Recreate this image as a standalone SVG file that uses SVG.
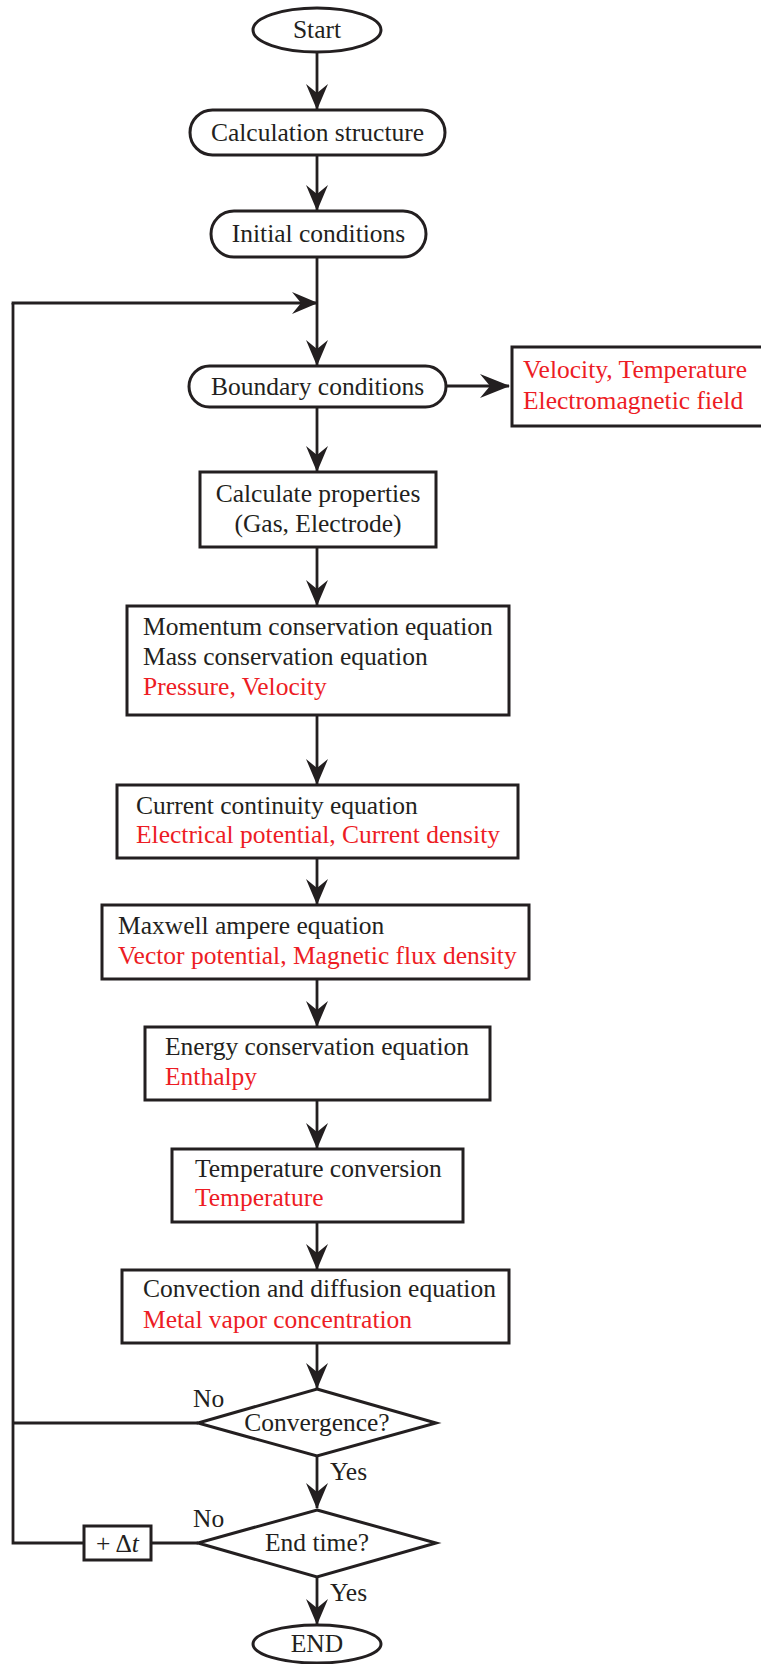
<svg xmlns="http://www.w3.org/2000/svg" width="761" height="1664" viewBox="0 0 761 1664" font-family="'Liberation Serif','Times New Roman',serif">
<defs>
<marker id="ah" viewBox="0 0 26 22" refX="25" refY="11" markerWidth="26" markerHeight="22" markerUnits="userSpaceOnUse" orient="auto">
<path d="M0,0 L26,11 L0,22 L9,11 Z" fill="#231f20"/>
</marker>
<marker id="ah2" viewBox="0 0 30 24" refX="29" refY="12" markerWidth="30" markerHeight="24" markerUnits="userSpaceOnUse" orient="auto">
<path d="M0,0 L30,12 L0,24 L10,12 Z" fill="#231f20"/>
</marker>
<style>
.b{fill:#fff;stroke:#231f20;stroke-width:3}
.l{fill:none;stroke:#231f20;stroke-width:2.8}
.a{fill:none;stroke:#231f20;stroke-width:2.8;marker-end:url(#ah)}
.a2{fill:none;stroke:#231f20;stroke-width:2.8;marker-end:url(#ah2)}
text{font-family:'Liberation Serif','Times New Roman',serif;font-size:25.5px;fill:#231f20}
.c{text-anchor:middle}
.r{fill:#ed1c24}
</style>
</defs>
<rect width="761" height="1664" fill="#fff"/>
<g id="connectors">
<line class="a" x1="317" y1="52" x2="317" y2="109"/>
<line class="a" x1="317" y1="155" x2="317" y2="210"/>
<line class="a" x1="317" y1="257" x2="317" y2="365"/>
<line class="a2" x1="446" y1="386" x2="509" y2="386"/>
<line class="a" x1="317" y1="407" x2="317" y2="471"/>
<line class="a" x1="317" y1="547" x2="317" y2="605"/>
<line class="a" x1="317" y1="715" x2="317" y2="784"/>
<line class="a" x1="317" y1="858" x2="317" y2="904"/>
<line class="a" x1="317" y1="979" x2="317" y2="1026"/>
<line class="a" x1="317" y1="1100" x2="317" y2="1148"/>
<line class="a" x1="317" y1="1222" x2="317" y2="1269"/>
<line class="a" x1="317" y1="1343" x2="317" y2="1388"/>
<line class="a" x1="317" y1="1456" x2="317" y2="1508"/>
<line class="a" x1="317" y1="1577" x2="317" y2="1624"/>
<polyline class="l" points="198,1423 13,1423"/>
<polyline class="l" points="198,1543 151,1543"/>
<polyline class="l" points="84,1543 13,1543 13,303"/>
<line class="a" x1="11.6" y1="303" x2="317" y2="303"/>
</g>
<g id="start">
<ellipse class="b" cx="317" cy="30" rx="64" ry="22"/>
<text class="c" x="317" y="38">Start</text>
</g>
<g id="calc-structure">
<rect class="b" x="190" y="110" width="255" height="45" rx="22.5"/>
<text class="c" x="317.5" y="141">Calculation structure</text>
</g>
<g id="initial">
<rect class="b" x="211" y="211" width="215" height="46" rx="23"/>
<text class="c" x="318.5" y="242">Initial conditions</text>
</g>
<g id="boundary">
<rect class="b" x="189" y="366" width="257" height="41" rx="20.5"/>
<text class="c" x="317.5" y="395">Boundary conditions</text>
</g>
<g id="bc-values">
<rect class="b" x="512" y="347" width="260" height="79"/>
<text class="r" x="523" y="378">Velocity, Temperature</text>
<text class="r" x="523" y="409">Electromagnetic field</text>
</g>
<g id="properties">
<rect class="b" x="200" y="472" width="236" height="75"/>
<text class="c" x="318" y="502">Calculate properties</text>
<text class="c" x="318" y="532">(Gas, Electrode)</text>
</g>
<g id="momentum">
<rect class="b" x="127" y="606" width="382" height="109"/>
<text x="143" y="635">Momentum conservation equation</text>
<text x="143" y="665">Mass conservation equation</text>
<text class="r" x="143" y="695">Pressure, Velocity</text>
</g>
<g id="current">
<rect class="b" x="117" y="785" width="401" height="73"/>
<text x="136" y="814">Current continuity equation</text>
<text class="r" x="136" y="843">Electrical potential, Current density</text>
</g>
<g id="maxwell">
<rect class="b" x="102" y="905" width="427" height="74"/>
<text x="118" y="934">Maxwell ampere equation</text>
<text class="r" x="118" y="964">Vector potential, Magnetic flux density</text>
</g>
<g id="energy">
<rect class="b" x="145" y="1027" width="345" height="73"/>
<text x="165" y="1055">Energy conservation equation</text>
<text class="r" x="165" y="1085">Enthalpy</text>
</g>
<g id="temperature">
<rect class="b" x="172" y="1149" width="291" height="73"/>
<text x="195" y="1177">Temperature conversion</text>
<text class="r" x="195" y="1206">Temperature</text>
</g>
<g id="convection">
<rect class="b" x="122" y="1270" width="387" height="73"/>
<text x="143" y="1297">Convection and diffusion equation</text>
<text class="r" x="143" y="1328">Metal vapor concentration</text>
</g>
<g id="convergence">
<polygon class="b" points="317,1389 436,1423 317,1456 198,1423"/>
<text class="c" x="317" y="1431">Convergence?</text>
<text x="193" y="1407">No</text>
<text x="330" y="1480">Yes</text>
</g>
<g id="endtime">
<polygon class="b" points="317,1510 436,1543 317,1577 198,1543"/>
<text class="c" x="317" y="1551">End time?</text>
<text x="193" y="1527">No</text>
<text x="330" y="1601">Yes</text>
</g>
<g id="dt">
<rect class="b" x="84" y="1526" width="67" height="34"/>
<text class="c" x="117.5" y="1552">+ Δ<tspan font-style="italic">t</tspan></text>
</g>
<g id="end">
<ellipse class="b" cx="317" cy="1644" rx="64" ry="19"/>
<text class="c" x="317" y="1652">END</text>
</g>
</svg>
